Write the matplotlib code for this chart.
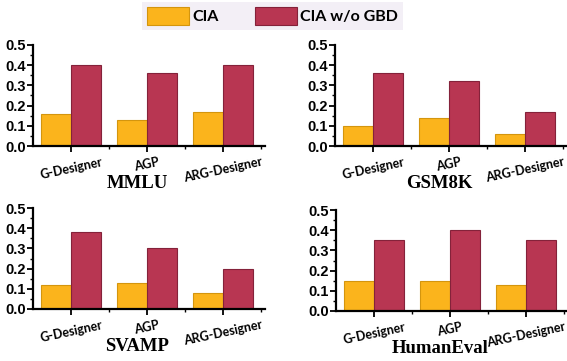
import matplotlib
matplotlib.use("Agg")
import matplotlib.pyplot as plt
import numpy as np
from matplotlib.ticker import MultipleLocator, FixedLocator

methods = ["G-Designer", "AGP", "ARG-Designer"]
datasets = ["MMLU", "GSM8K", "SVAMP", "HumanEval"]
cia = {
    "MMLU": [0.16, 0.13, 0.17],
    "GSM8K": [0.10, 0.14, 0.06],
    "SVAMP": [0.12, 0.13, 0.08],
    "HumanEval": [0.15, 0.15, 0.13],
}
cia_wo_gbd = {
    "MMLU": [0.40, 0.36, 0.40],
    "GSM8K": [0.36, 0.32, 0.17],
    "SVAMP": [0.38, 0.30, 0.20],
    "HumanEval": [0.35, 0.40, 0.35],
}
series_names = ["CIA", "CIA w/o GBD"]

W, H = 567, 361
fig = plt.figure(figsize=(W / 100, H / 100), dpi=100)

orange = "#FBB41C"
orange_edge = "#D4950E"
red = "#B83652"
red_edge = "#84223A"

# axes rectangles in pixels: left, top, bottom
rects = [
    (33, 45, 146),
    (335, 45, 146),
    (33, 208, 309),
    (336, 210, 311),
]
x0, x1 = -0.5, 2.55
spacing = 76
width_px = (x1 - x0) * spacing

handles = None
for name, (l, t, b) in zip(datasets, rects):
    ax = fig.add_axes([l / W, 1 - b / H, width_px / W, (b - t) / H])
    x = np.arange(len(methods))
    bw = 0.4
    h1 = ax.bar(x - bw / 2, cia[name], bw, color=orange, edgecolor=orange_edge, linewidth=0.8)
    h2 = ax.bar(x + bw / 2, cia_wo_gbd[name], bw, color=red, edgecolor=red_edge, linewidth=0.8)
    handles = [h1, h2]
    ax.set_xlim(x0, x1)
    ax.set_ylim(0, 0.5)
    ax.spines["top"].set_visible(False)
    ax.spines["right"].set_visible(False)
    ax.spines["left"].set_linewidth(1.6)
    ax.spines["bottom"].set_linewidth(1.6)
    ax.yaxis.set_minor_locator(MultipleLocator(0.05))
    ax.set_yticks(np.arange(0, 0.51, 0.1))
    ax.set_yticklabels([f"{v:.1f}" for v in np.arange(0, 0.51, 0.1)],
                       fontfamily="Liberation Sans", fontweight="bold", fontsize=10.5)
    ax.set_xticks(x)
    ax.set_xticklabels(methods, rotation=12, ha="center",
                       fontfamily="Lato", fontweight="bold", fontsize=9)
    ax.xaxis.set_minor_locator(FixedLocator([0.5, 1.5, 2.5]))
    ax.tick_params(axis="both", which="major", direction="out", length=4, width=1.3, pad=1)
    ax.tick_params(axis="both", which="minor", direction="out", length=2, width=1.0)
    ax.tick_params(axis="x", which="major", pad=3)
    ax.text(0.45, -0.37, name, transform=ax.transAxes, ha="center", va="center",
            fontfamily="Liberation Serif", fontweight="bold", fontsize=13.5)

leg = fig.legend(handles, series_names, ncol=2, loc="upper center",
                 bbox_to_anchor=(272.5 / W, 1 - 2 / H),
                 prop={"family": "Lato", "weight": "bold", "size": 11.5},
                 frameon=True, fancybox=False, handlelength=2.6, handleheight=1.4,
                 handletextpad=0.2, columnspacing=2.3, borderpad=0.3, borderaxespad=0)
leg.get_frame().set_facecolor("#F3EFF6")
leg.get_frame().set_edgecolor("none")
leg.get_frame().set_alpha(1)

fig.savefig("out.png", dpi=100)
